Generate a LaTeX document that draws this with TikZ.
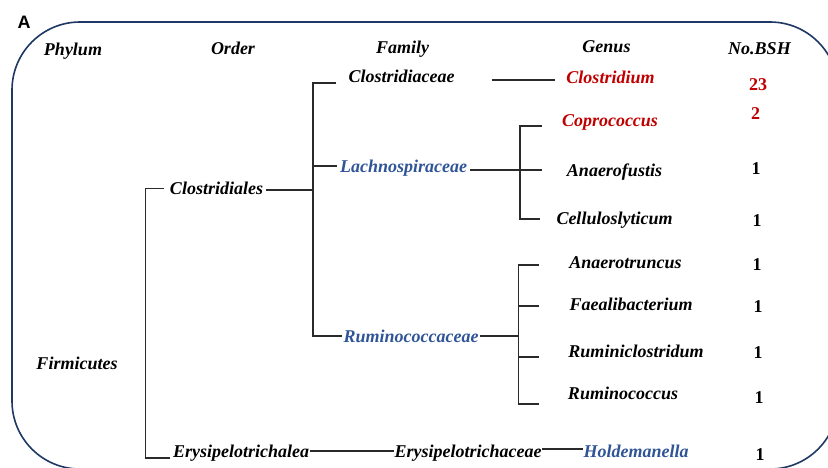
\documentclass[tikz,border=0pt]{standalone}
\usepackage{fontspec}
\setmainfont{Liberation Serif}
\newfontfamily\labelsans{Liberation Sans}
\definecolor{redtx}{HTML}{C00000}
\definecolor{bluetx}{HTML}{2F5597}
\definecolor{framec}{HTML}{1F3864}
\definecolor{linec}{HTML}{2A2A2A}
\begin{document}
\begin{tikzpicture}[x=1pt,y=-1pt,
 lab/.style={font=\fontsize{18}{20}\selectfont\bfseries\itshape, text height=12pt, text depth=0pt, inner xsep=3pt, inner ysep=0pt},
 num/.style={font=\fontsize{18}{20}\selectfont\bfseries, text height=12pt, text depth=0pt, inner sep=0pt},
 conn/.style={draw=linec, line width=1.1pt},
 red/.style={text=redtx},
 blu/.style={text=bluetx},
]
\useasboundingbox (0,0) rectangle (828,467);
\begin{scope}
\clip (0,0) rectangle (828,467);
\draw[framec, line width=1.6pt, rounded corners=68pt] (12,22) rectangle (838,469);
\end{scope}
\node[font={\labelsans\fontsize{18}{20}\selectfont\bfseries}, inner sep=0pt, anchor=base] (panel) at (24,28.5) {A};

% headers
\node[lab] (hphy) at (73,49) {Phylum};
\node[lab] (hord) at (233,48.5) {Order};
\node[lab] (hfam) at (402.5,47.5) {Family};
\node[lab] (hgen) at (606.5,46.5) {Genus};
\node[lab] (hbsh) at (759.5,48) {No.BSH};

% taxa
\node[lab] (phy) at (77,363.5) {Firmicutes};
\node[lab] (ord1) at (216.5,188.5) {Clostridiales};
\node[lab, inner xsep=0.5pt] (ord2) at (241,451) {Erysipelotrichalea};
\node[lab] (fam1) at (401.5,76) {Clostridiaceae};
\node[lab,blu] (fam2) at (403.5,166) {Lachnospiraceae};
\node[lab,blu, inner xsep=1pt] (fam3) at (411,336) {Ruminococcaceae};
\node[lab, inner xsep=0.5pt] (fam4) at (468,451) {Erysipelotrichaceae};
\node[lab,red] (gen1) at (610.5,77) {Clostridium};
\node[lab,red] (gen2) at (610,120) {Coprococcus};
\node[lab] (gen3) at (614.5,170) {Anaerofustis};
\node[lab] (gen4) at (614.5,218) {Celluloslyticum};
\node[lab] (gen5) at (625.5,262.5) {Anaerotruncus};
\node[lab] (gen6) at (631,304) {Faealibacterium};
\node[lab] (gen7) at (636,351) {Ruminiclostridum};
\node[lab] (gen8) at (623,393.5) {Ruminococcus};
\node[lab,blu, inner xsep=0.5pt] (gen9) at (636,451) {Holdemanella};

% counts
\node[num,red] (n1) at (758,84.5) {23};
\node[num,red] (n2) at (755.5,113.5) {2};
\node[num] (n3) at (756,168.5) {1};
\node[num] (n4) at (757,220) {1};
\node[num] (n5) at (757,264) {1};
\node[num] (n6) at (758,306) {1};
\node[num] (n7) at (758,352) {1};
\node[num] (n8) at (759,397) {1};
\node[num] (n9) at (760,454) {1};

% spines and tick ends
\coordinate (sp1) at (145.5,0);
\coordinate (sp2) at (313,0);
\coordinate (sp3) at (520,0);
\coordinate (sp4) at (518.5,0);
\coordinate (k2) at (542,126);
\coordinate (k3) at (542,170);
\coordinate (k4) at (540,219);
\coordinate (k5) at (538.5,265);
\coordinate (k6) at (538.5,306);
\coordinate (k7) at (538.5,357);
\coordinate (k8) at (538.5,404);

% order level
\draw[conn] ([xshift=-2.5pt]ord1.west) -- (ord1.west -| sp1) -- ([yshift=-7pt]ord2.west -| sp1) -- ([yshift=-7pt,xshift=-2pt]ord2.west);
% family level
\draw[conn] ([yshift=-1.5pt]ord1.east) -- ([yshift=-1.5pt]ord1.east -| sp2);
\draw[conn] ([yshift=-7pt,xshift=-9pt]fam1.west) -- ([yshift=-7pt]fam1.west -| sp2) -- (fam3.west -| sp2) -- (fam3.west);
\draw[conn] (fam2.west -| sp2) -- (fam2.west);
\draw[conn] (ord2.east) -- (fam4.west);
% genus level
\draw[conn, shorten <=34pt, shorten >=8pt] ([yshift=-4pt]fam1.east) -- ([yshift=-4pt]fam1.east -| gen1.west);
\draw[conn] ([yshift=-4pt]fam2.east) -- ([yshift=-4pt]fam2.east -| sp3);
\draw[conn] (k2) -- (k2 -| sp3) -- (k4 -| sp3) -- (k4);
\draw[conn] (k3 -| sp3) -- (k3);
\draw[conn] (fam3.east) -- (fam3.east -| sp4);
\draw[conn] (k5) -- (k5 -| sp4) -- (k8 -| sp4) -- (k8);
\draw[conn] (k6 -| sp4) -- (k6);
\draw[conn] (k7 -| sp4) -- (k7);
\draw[conn] ([yshift=2pt]fam4.east) -- ([yshift=2pt]fam4.east -| gen9.west);
\end{tikzpicture}
\end{document}
